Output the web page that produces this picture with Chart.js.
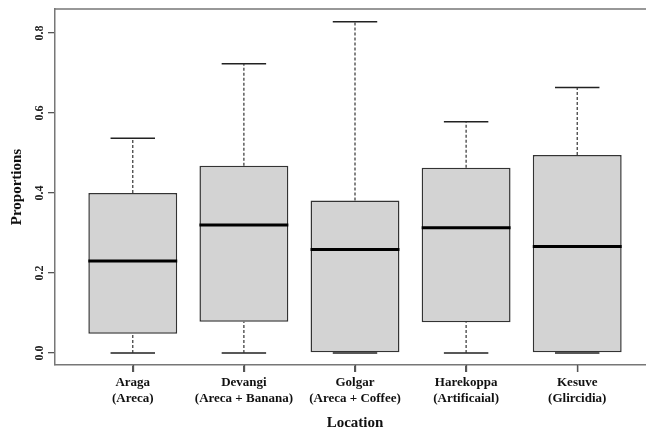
<!DOCTYPE html>
<html>
<head>
<meta charset="utf-8">
<script src="https://cdn.jsdelivr.net/npm/chart.js@4.4.1/dist/chart.umd.min.js"></script>
<style>
    html, body { margin: 0; padding: 0; background: #fff; overflow: hidden; }
    #wrap { width: 646px; height: 432px; overflow: hidden; }
</style>
</head>
<body>
<div id="wrap"><canvas id="boxChart" width="660" height="432"></canvas></div>
<script>
// boxplot stats
const locations = ["Araga", "Devangi", "Golgar", "Harekoppa", "Kesuve"];
const systems = ["(Areca)", "(Areca + Banana)", "(Areca + Coffee)", "(Artificaial)", "(Glircidia)"];
const whiskerLow = [0, 0, 0, 0, 0];
const q1 = [0.048, 0.078, 0, 0.077, 0];
const median = [0.230, 0.320, 0.259, 0.313, 0.266];
const q3 = [0.400, 0.468, 0.381, 0.463, 0.495];
const whiskerHigh = [0.537, 0.723, 0.828, 0.578, 0.664];
const yTicks = [0, 0.2, 0.4, 0.6, 0.8];

const BOX_WEX = 0.8;      // box width in category units (like R's boxwex)
const STAPLE_WEX = 0.4;   // whisker cap width

const serif = "'Liberation Serif', 'Times New Roman', serif";

// helpers to build segment data with gaps between them
function hSegments(values, half) {
    return values.flatMap((v, i) => [
        { x: i + 1 - half, y: v },
        { x: i + 1 + half, y: v },
        { x: i + 1, y: null }
    ]);
}

function vSegments(from, to) {
    return from.flatMap((v, i) => [
        { x: i + 1, y: v },
        { x: i + 1, y: to[i] },
        { x: i + 1, y: null }
    ]);
}

// full box around the plot region (R style) + x tick marks
const frame = {
    id: "frame",
    afterDraw(chart) {
        const { ctx, chartArea: a, scales } = chart;
        ctx.save();
        ctx.strokeStyle = "#777";
        ctx.lineWidth = 1.5;
        ctx.beginPath();
        ctx.moveTo(a.left, a.top);
        ctx.lineTo(a.right, a.top);
        ctx.lineTo(a.right, a.bottom);
        ctx.stroke();

        ctx.strokeStyle = "#555";
        ctx.lineWidth = 1.3;
        ctx.beginPath();
        scales.x.ticks.forEach(t => {
            const px = Math.round(scales.x.getPixelForValue(t.value)) + 0.5;
            ctx.moveTo(px, a.bottom);
            ctx.lineTo(px, a.bottom + 7);
        });
        ctx.stroke();
        ctx.restore();
    }
};

const lineBase = { type: "line", pointRadius: 0, spanGaps: false, tension: 0, fill: false };

new Chart(document.getElementById("boxChart"), {
    type: "bar",
    data: {
        datasets: [
            {
                ...lineBase,
                label: "median",
                data: hSegments(median, BOX_WEX / 2),
                borderColor: "#000",
                borderWidth: 3,
                order: 0
            },
            {
                ...lineBase,
                label: "whiskers",
                data: vSegments(q3, whiskerHigh).concat(vSegments(whiskerLow, q1)),
                borderColor: "#333",
                borderWidth: 1.2,
                borderDash: [3, 2],
                order: 1
            },
            {
                ...lineBase,
                label: "caps",
                data: hSegments(whiskerHigh, STAPLE_WEX / 2).concat(hSegments(whiskerLow, STAPLE_WEX / 2)),
                borderColor: "#222",
                borderWidth: 1.5,
                order: 1
            },
            {
                type: "bar",
                label: "box",
                data: locations.map((_, i) => ({ x: i + 1, y: [q1[i], q3[i]] })),
                backgroundColor: "#d3d3d3",
                borderColor: "#333",
                borderWidth: 1.5,
                borderSkipped: false,
                barPercentage: BOX_WEX,
                categoryPercentage: 1,
                grouped: false,
                order: 2
            }
        ]
    },
    options: {
        responsive: false,
        animation: false,
        layout: { padding: { top: 9, right: 5, left: 0, bottom: 0 } },
        plugins: {
            legend: { display: false },
            tooltip: { enabled: false }
        },
        scales: {
            x: {
                type: "linear",
                min: 0.3,
                max: 5.7,
                offset: false,
                afterBuildTicks: s => { s.ticks = locations.map((_, i) => ({ value: i + 1 })); },
                afterFit: s => { s.height = 67; },
                ticks: {
                    autoSkip: false,
                    minRotation: 0,
                    maxRotation: 0,
                    padding: 3,
                    color: "#111",
                    font: { family: serif, size: 13, weight: "bold" },
                    callback: (v, i) => [locations[i], systems[i]]
                },
                grid: {
                    offset: false,
                    drawOnChartArea: false,
                    tickLength: 7,
                    color: "#555",
                    lineWidth: 1.3
                },
                border: { color: "#777", width: 1.5 },
                title: {
                    display: true,
                    text: "Location",
                    color: "#111",
                    font: { family: serif, size: 15, weight: "bold" },
                    padding: { top: 0, bottom: 0 }
                }
            },
            y: {
                min: -0.03,
                max: 0.86,
                afterBuildTicks: s => { s.ticks = yTicks.map(v => ({ value: v })); },
                afterFit: s => { s.width = 55; },
                ticks: {
                    minRotation: 90,
                    maxRotation: 90,
                    crossAlign: "center",
                    padding: 1,
                    color: "#222",
                    font: { family: serif, size: 12, weight: "bold" },
                    callback: v => v.toFixed(1)
                },
                grid: { drawOnChartArea: false, tickLength: 7, color: "#555", lineWidth: 1.3 },
                border: { color: "#777", width: 1.5 },
                title: {
                    display: true,
                    text: "Proportions",
                    color: "#111",
                    font: { family: serif, size: 15, weight: "bold" },
                    padding: { top: 8, bottom: 0 }
                }
            }
        }
    },
    plugins: [frame]
});
</script>
</body>
</html>
